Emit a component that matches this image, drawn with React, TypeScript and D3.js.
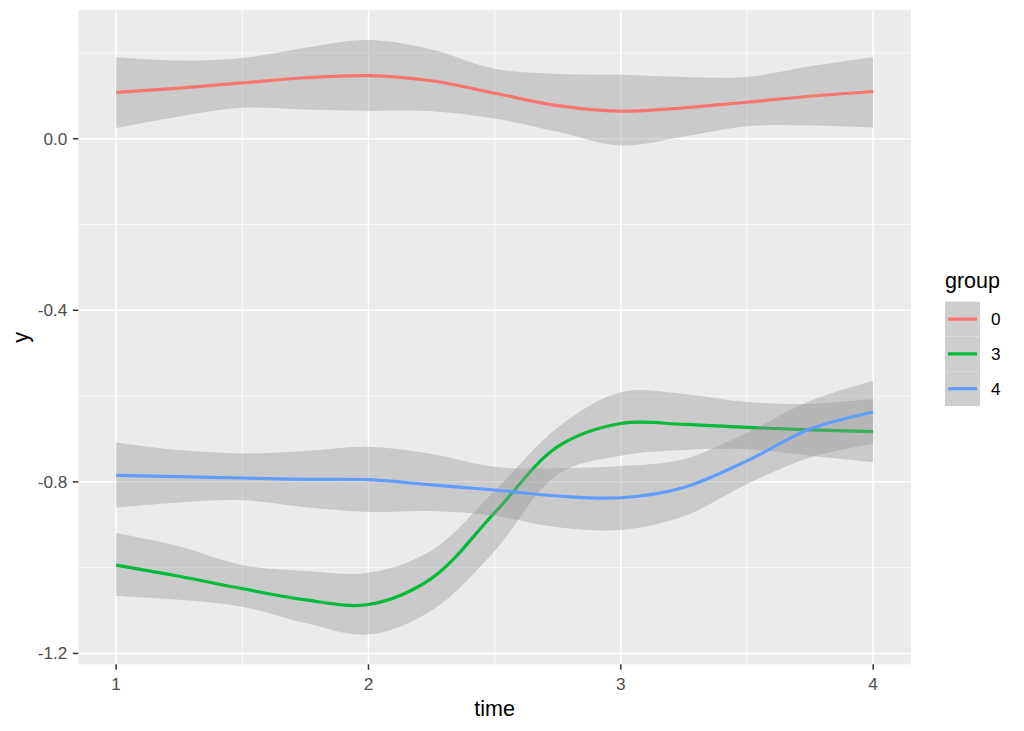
import * as d3 from 'd3'

// smoothed fit + confidence band at quarter steps
const times = [1, 1.25, 1.5, 1.75, 2, 2.25, 2.5, 2.75, 3, 3.25, 3.5, 3.75, 4]

const fit0 = [0.108, 0.118, 0.130, 0.142, 0.147, 0.135, 0.106, 0.077, 0.064, 0.072, 0.085, 0.099, 0.110]
const hi0 = [0.190, 0.182, 0.188, 0.212, 0.230, 0.208, 0.163, 0.151, 0.149, 0.144, 0.144, 0.169, 0.190]
const lo0 = [0.025, 0.052, 0.072, 0.068, 0.065, 0.064, 0.047, 0.016, -0.016, 0.005, 0.029, 0.031, 0.026]

const fit3 = [-0.994, -1.020, -1.049, -1.075, -1.086, -1.025, -0.872, -0.718, -0.664, -0.666, -0.673, -0.679, -0.683]
const hi3 = [-0.919, -0.950, -0.994, -1.008, -1.012, -0.960, -0.821, -0.673, -0.591, -0.595, -0.614, -0.618, -0.606]
const lo3 = [-1.066, -1.075, -1.091, -1.129, -1.156, -1.100, -0.961, -0.782, -0.739, -0.726, -0.724, -0.739, -0.754]

const fit4 = [-0.785, -0.788, -0.791, -0.794, -0.795, -0.807, -0.819, -0.833, -0.837, -0.813, -0.751, -0.677, -0.637]
const hi4 = [-0.708, -0.726, -0.734, -0.728, -0.718, -0.735, -0.765, -0.768, -0.763, -0.747, -0.685, -0.611, -0.564]
const lo4 = [-0.860, -0.848, -0.843, -0.859, -0.870, -0.868, -0.879, -0.906, -0.912, -0.880, -0.805, -0.743, -0.711]

const groupNames = ['0', '3', '4']
const groupColors = ['#F8766D', '#00BA38', '#619CFF']

const xTicks = [1, 2, 3, 4]
const xMinor = [1.5, 2.5, 3.5]
const yTicks = [0, -0.4, -0.8, -1.2]
const yMinor = [0.2, -0.2, -0.6, -1.0]

const W = 1024
const H = 731
const panel = { left: 78.3, right: 911, top: 10.3, bottom: 664.3 }
const font = '"Liberation Sans", Arial, Helvetica, sans-serif'

type Pt = { t: number; fit: number; lo: number; hi: number }

export default function App() {
  const groups = [
    { fit: fit0, lo: lo0, hi: hi0 },
    { fit: fit3, lo: lo3, hi: hi3 },
    { fit: fit4, lo: lo4, hi: hi4 },
  ].map((g, i) => ({
    name: groupNames[i],
    color: groupColors[i],
    pts: times.map((t, j) => ({ t, fit: g.fit[j], lo: g.lo[j], hi: g.hi[j] })) as Pt[],
  }))

  // ggplot style 5% expansion
  const xExt = d3.extent(times) as [number, number]
  const xPad = (xExt[1] - xExt[0]) * 0.05
  const x = d3.scaleLinear().domain([xExt[0] - xPad, xExt[1] + xPad]).range([panel.left, panel.right])

  const allY = groups.flatMap(g => g.pts.flatMap(p => [p.lo, p.hi]))
  const yMin = d3.min(allY)!
  const yMax = d3.max(allY)!
  const yPad = (yMax - yMin) * 0.05
  const y = d3.scaleLinear().domain([yMin - yPad, yMax + yPad]).range([panel.bottom, panel.top])

  const curve = d3.curveCatmullRom.alpha(0.5)

  const area = d3.area<Pt>()
    .x(d => x(d.t))
    .y0(d => y(d.lo))
    .y1(d => y(d.hi))
    .curve(curve)

  const line = d3.line<Pt>()
    .x(d => x(d.t))
    .y(d => y(d.fit))
    .curve(curve)

  // R prints a plain hyphen, not the unicode minus
  const fmt = (v: number) => d3.format('.1f')(v).replace('\u2212', '-')
  const keyTop = 301.7
  const keyH = 34.8

  return (
    <div style={{ position: 'absolute', left: 0, top: 0 }}>
      <svg width={W} height={H} style={{ display: 'block', background: '#fff' }}>
        <rect x={panel.left} y={panel.top} width={panel.right - panel.left} height={panel.bottom - panel.top} fill="#EBEBEB" />

        {/* minor grid */}
        {yMinor.map(v => (
          <line key={'ym' + v} x1={panel.left} x2={panel.right} y1={y(v)} y2={y(v)} stroke="#fff" strokeWidth={0.75} />
        ))}
        {xMinor.map(v => (
          <line key={'xm' + v} x1={x(v)} x2={x(v)} y1={panel.top} y2={panel.bottom} stroke="#fff" strokeWidth={0.75} />
        ))}
        {/* major grid */}
        {yTicks.map(v => (
          <line key={'yg' + v} x1={panel.left} x2={panel.right} y1={y(v)} y2={y(v)} stroke="#fff" strokeWidth={1.5} />
        ))}
        {xTicks.map(v => (
          <line key={'xg' + v} x1={x(v)} x2={x(v)} y1={panel.top} y2={panel.bottom} stroke="#fff" strokeWidth={1.5} />
        ))}

        {/* ribbon then line, per group */}
        {groups.map(g => (
          <g key={g.name}>
            <path d={area(g.pts)!} fill="#999999" fillOpacity={0.4} />
            <path d={line(g.pts)!} fill="none" stroke={g.color} strokeWidth={3.2} />
          </g>
        ))}

        {/* y axis */}
        {yTicks.map(v => (
          <g key={'yt' + v}>
            <line x1={panel.left - 5.5} x2={panel.left} y1={y(v)} y2={y(v)} stroke="#333333" strokeWidth={1.5} />
            <text x={panel.left - 11} y={y(v)} dy="0.35em" textAnchor="end" fontFamily={font} fontSize={17.2} fill="#4D4D4D">
              {fmt(v)}
            </text>
          </g>
        ))}
        {/* x axis */}
        {xTicks.map(v => (
          <g key={'xt' + v}>
            <line x1={x(v)} x2={x(v)} y1={panel.bottom} y2={panel.bottom + 5.5} stroke="#333333" strokeWidth={1.5} />
            <text x={x(v)} y={690} textAnchor="middle" fontFamily={font} fontSize={17.2} fill="#4D4D4D">
              {v}
            </text>
          </g>
        ))}

        <text x={(panel.left + panel.right) / 2} y={716} textAnchor="middle" fontFamily={font} fontSize={21.5} fill="#000">
          time
        </text>
        <text
          transform={`translate(28,${(panel.top + panel.bottom) / 2}) rotate(-90)`}
          textAnchor="middle"
          fontFamily={font}
          fontSize={21.5}
          fill="#000"
        >
          y
        </text>

        {/* legend */}
        <text x={945} y={288} fontFamily={font} fontSize={21.5} fill="#000">group</text>
        {groups.map((g, i) => {
          const ky = keyTop + i * keyH
          return (
            <g key={'lg' + g.name}>
              <rect x={945} y={ky} width={35} height={keyH} fill="#F2F2F2" />
              <rect x={945} y={ky} width={35} height={keyH} fill="#999999" fillOpacity={0.4} />
              <line x1={948} x2={977} y1={ky + keyH / 2} y2={ky + keyH / 2} stroke={g.color} strokeWidth={3.2} />
              <text x={991} y={ky + keyH / 2} dy="0.35em" fontFamily={font} fontSize={17.2} fill="#000">
                {g.name}
              </text>
            </g>
          )
        })}
      </svg>
    </div>
  )
}
